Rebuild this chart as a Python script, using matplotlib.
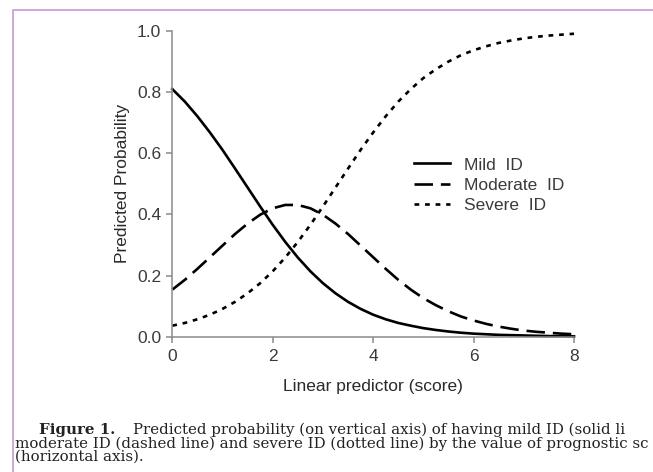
import matplotlib
matplotlib.use("Agg")
import matplotlib.pyplot as plt
from matplotlib.lines import Line2D

# score values (step 0.25)
score = [0, 0.25, 0.5, 0.75, 1, 1.25, 1.5, 1.75, 2, 2.25, 2.5, 2.75, 3, 3.25, 3.5, 3.75,
         4, 4.25, 4.5, 4.75, 5, 5.25, 5.5, 5.75, 6, 6.25, 6.5, 6.75, 7, 7.25, 7.5, 7.75, 8]

mild = [0.810, 0.769, 0.721, 0.668, 0.611, 0.550, 0.488, 0.426, 0.366, 0.310, 0.259,
        0.214, 0.175, 0.142, 0.114, 0.091, 0.072, 0.057, 0.045, 0.036, 0.028, 0.022,
        0.017, 0.013, 0.010, 0.008, 0.006, 0.005, 0.004, 0.003, 0.002, 0.002, 0.001]

moderate = [0.154, 0.186, 0.222, 0.260, 0.298, 0.336, 0.370, 0.399, 0.420, 0.431, 0.431,
            0.420, 0.399, 0.370, 0.336, 0.298, 0.260, 0.222, 0.186, 0.154, 0.126, 0.103,
            0.083, 0.066, 0.053, 0.042, 0.033, 0.026, 0.020, 0.016, 0.013, 0.010, 0.008]

severe = [0.036, 0.045, 0.057, 0.072, 0.091, 0.114, 0.142, 0.175, 0.214, 0.259, 0.310,
          0.366, 0.426, 0.488, 0.550, 0.611, 0.668, 0.721, 0.769, 0.810, 0.846, 0.875,
          0.900, 0.921, 0.937, 0.950, 0.961, 0.969, 0.976, 0.981, 0.985, 0.988, 0.991]

labels = ["Mild  ID", "Moderate  ID", "Severe  ID"]
xticks = [0, 2, 4, 6, 8]
yticks = [0.0, 0.2, 0.4, 0.6, 0.8, 1.0]

# caption as visible in the reference (it runs past the right edge there)
caption = [
    "Predicted probability (on vertical axis) of having mild ID (solid li",
    "moderate ID (dashed line) and severe ID (dotted line) by the value of prognostic sc",
    "(horizontal axis).",
]

W, H = 653, 472
fig = plt.figure(figsize=(W / 100, H / 100), dpi=100)
plt.rcParams['font.family'] = ['Liberation Sans', 'DejaVu Sans']

ax = fig.add_axes([172.3 / W, 1 - 336.7 / H, (574 - 172.3) / W, (336.7 - 31) / H])

lw = 1.9
ax.plot(score, mild, color="black", lw=lw, label=labels[0], clip_on=False)
ax.plot(score, moderate, color="black", lw=lw, ls=(0, (7, 3)), label=labels[1], clip_on=False)
ax.plot(score, severe, color="black", lw=lw, ls=(0, (1.8, 2.2)), label=labels[2], clip_on=False)

ax.set_xlim(0, 8)
ax.set_ylim(0, 1)
ax.set_xticks(xticks)
ax.set_yticks(yticks)
ax.set_yticklabels([f"{v:.1f}" for v in yticks])

for s in ["top", "right"]:
    ax.spines[s].set_visible(False)
for s in ["left", "bottom"]:
    ax.spines[s].set_color("#8a8a8a")
    ax.spines[s].set_linewidth(1.1)
ax.tick_params(colors="#8a8a8a", labelcolor="#3a3a3a", labelsize=12.5, length=4, width=1.1)
ax.tick_params(axis="x", pad=5)
ax.tick_params(axis="y", pad=4)

ax.set_xlabel("Linear predictor (score)", fontsize=12.5, color="#2a2a2a", labelpad=11)
ax.set_ylabel("Predicted Probability", fontsize=12.5, color="#2a2a2a")
ax.yaxis.set_label_coords(-0.105, 0.5)

ax.legend(loc="center left", bbox_to_anchor=(398 / W, 1 - 185 / H), bbox_transform=fig.transFigure,
          frameon=False, fontsize=12.5, handlelength=2.1, handletextpad=0.8, labelspacing=0.28,
          labelcolor="#3a3a3a")

# purple frame around the figure block
fig.add_artist(Line2D([13 / W, 13 / W, 1], [0, 1 - 10 / H, 1 - 10 / H], transform=fig.transFigure,
                      color="#c49ad2", lw=1.2))

# caption
cap_font = dict(family="DejaVu Serif", fontsize=10.85, color="#222222")
t = fig.text(39 / W, 1 - 434 / H, "Figure 1.", fontweight="bold", va="baseline", **cap_font)
fig.canvas.draw()
bb = t.get_window_extent()
fig.text((bb.x1 + 18) / W, 1 - 434 / H, caption[0], va="baseline", **cap_font)
fig.text(15 / W, 1 - 448 / H, caption[1], va="baseline", **cap_font)
fig.text(15 / W, 1 - 461 / H, caption[2], va="baseline", **cap_font)

fig.savefig("out.png", dpi=100)
